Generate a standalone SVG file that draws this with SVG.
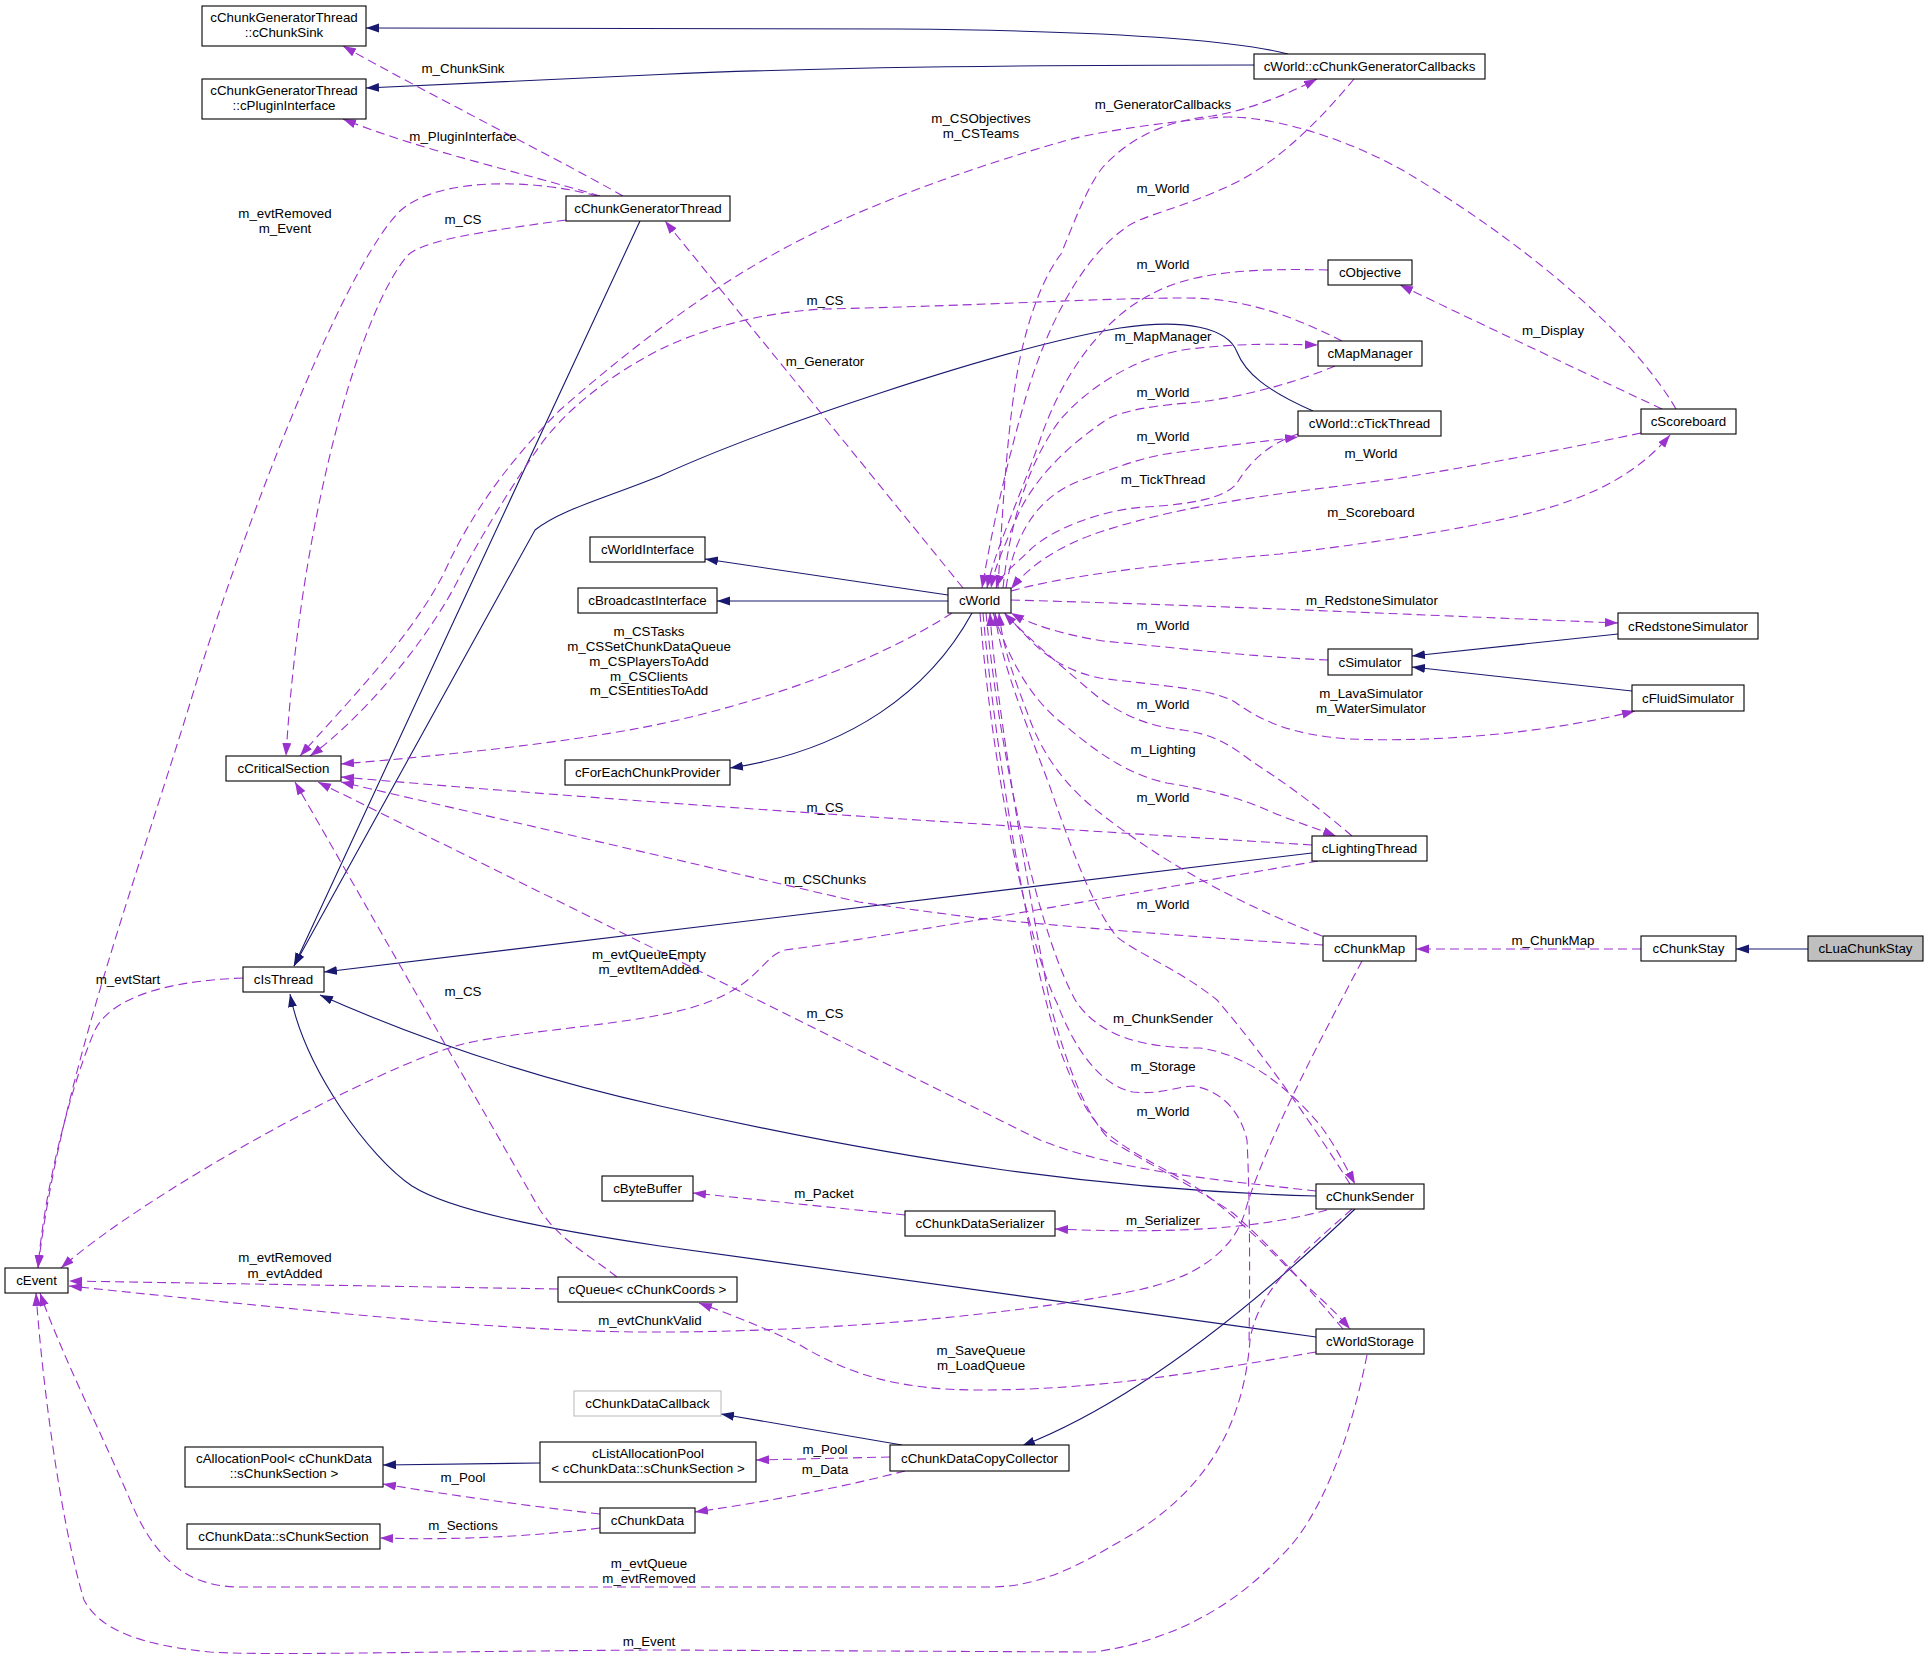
<svg xmlns="http://www.w3.org/2000/svg" width="1928" height="1660" viewBox="0 0 1928 1660">
<style>
text{font-family:"Liberation Sans",Arial,Helvetica,sans-serif;font-size:13.33px;fill:#000}
.n rect{fill:#fff;stroke:#000;stroke-width:1.1}
.n text,.l text{text-anchor:middle}
.u{fill:none;stroke:#9a32cd;stroke-width:1.1;stroke-dasharray:9,5;marker-end:url(#ap)}
.un{fill:none;stroke:#9a32cd;stroke-width:1.1;stroke-dasharray:9,5}
.i{fill:none;stroke:#191970;stroke-width:1.1;marker-end:url(#an)}
</style>
<defs>
<marker id="ap" markerUnits="userSpaceOnUse" markerWidth="14" markerHeight="10" refX="13" refY="4.5" orient="auto"><path d="M0,0 L13,4.5 L0,9 z" fill="#9a32cd"/></marker>
<marker id="an" markerUnits="userSpaceOnUse" markerWidth="14" markerHeight="10" refX="13" refY="4.5" orient="auto"><path d="M0,0 L13,4.5 L0,9 z" fill="#191970"/></marker>
</defs>
<rect width="1928" height="1660" fill="#fff"/>
<g id="edges">
<!-- inheritance -->
<path class="i" d="M1288,54 C1250,44 1150,31 900,29 L366,28"/>
<path class="i" d="M1254,65 C1000,65 800,68 660,74.5 L366,88"/>
<path class="i" d="M640,221 C560,390 390,760 294,966"/>
<path class="i" d="M1313,411 C1265,390 1245,372 1237,352 C1228,328 1185,318 1120,328 C1000,348 760,430 660,476 C600,500 560,510 535,530 L294,966"/>
<path class="i" d="M1312,853 L324,972"/>
<path class="i" d="M1316,1196 C1100,1190 900,1160 660,1106 C520,1075 410,1035 320,995"/>
<path class="i" d="M1316,1337 L660,1246 C540,1228 450,1210 412,1186 C370,1158 305,1070 290,994"/>
<path class="i" d="M948,595 L705,559"/>
<path class="i" d="M948,601 L717,601"/>
<path class="i" d="M972,613 C930,690 850,750 730,768"/>
<path class="i" d="M1618,634 L1412,656"/>
<path class="i" d="M1632,691 L1412,667"/>
<path class="i" d="M1808,949 L1736,949"/>
<path class="i" d="M1355,1209 C1260,1300 1140,1400 1022,1446"/>
<path class="i" d="M902,1445 L721,1414"/>
<path class="i" d="M540,1463 L383,1465"/>
<!-- usage -->
<path class="u" d="M623,196 C560,160 430,95 343,46"/>
<path class="u" d="M600,196 C520,172 420,150 343,119"/>
<path class="u" d="M566,220 C480,232 425,240 408,255 C360,310 300,520 286,756"/>
<path class="u" d="M597,196 C540,180 440,175 400,211 C350,260 260,480 198,677 C140,870 60,1080 38,1268"/>
<path class="u" d="M243,978 C160,981 110,1000 95,1030 C75,1075 45,1180 38,1268"/>
<path class="u" d="M1318,861 C1150,890 900,935 785,950 C762,956 760,985 700,1005 C640,1025 520,1030 463,1044 C380,1065 150,1190 61,1268"/>
<path class="u" d="M558,1289 L69,1281"/>
<path class="u" d="M1362,961 C1320,1040 1262,1150 1245,1212 C1232,1255 1190,1280 1133,1291 C1000,1318 800,1333 640,1332 C500,1331 300,1310 69,1286"/>
<path class="u" d="M1352,1209 C1300,1255 1258,1290 1250,1340 C1244,1420 1210,1490 1124,1539 C1080,1565 1040,1587 990,1587 L240,1587 C180,1587 150,1550 128,1495 C95,1420 60,1350 40,1293"/>
<path class="u" d="M1367,1355 C1350,1440 1320,1520 1280,1557 C1240,1600 1180,1640 1094,1652 L660,1650 C450,1651 260,1656 210,1652 C140,1645 100,1630 84,1600 C60,1520 42,1380 36,1293"/>
<path class="u" d="M1316,1352 C1200,1372 1100,1390 980,1390 C900,1390 850,1375 800,1345 C770,1330 740,1318 699,1303"/>
<path class="u" d="M905,1215 L693,1193"/>
<path class="u" d="M1327,1210 C1270,1225 1200,1235 1055,1229"/>
<path class="u" d="M890,1457 L756,1460"/>
<path class="u" d="M905,1471 C850,1485 780,1500 695,1512"/>
<path class="u" d="M600,1514 C520,1505 450,1495 383,1484"/>
<path class="u" d="M600,1528 C520,1538 440,1540 380,1538"/>
<path class="u" d="M1641,949 L1416,949"/>
<path class="u" d="M617,1277 C585,1252 560,1240 540,1210 L295,782"/>
<path class="u" d="M1316,1191 C1220,1180 1120,1172 1040,1140 L318,782"/>
<path class="u" d="M1323,945 C1200,938 1050,925 977,918 C930,912 900,908 859,902 L341,782"/>
<path class="u" d="M1312,845 C1000,825 700,808 341,777"/>
<path class="u" d="M952,613 C880,660 760,705 640,728 C560,743 450,755 341,764"/>
<path class="u" d="M1676,409 C1630,330 1520,240 1404,171 C1340,135 1260,112 1212,118 C1150,124 1090,133 1061,142 C980,165 880,200 808,236 C720,280 640,340 560,410 C500,470 470,520 450,560 C420,630 340,710 300,756"/>
<path class="u" d="M1342,341 C1300,320 1250,298 1187,298 C1100,298 1000,305 825,309 C760,312 700,330 661,349 C610,375 565,410 539,447 C505,495 480,540 463,570 C430,640 360,720 310,756"/>
<path class="u" d="M998,588 C1003,500 1008,420 1019,363 C1030,310 1045,275 1061,254 C1075,220 1088,185 1103,167 C1135,132 1175,120 1212,116 C1250,110 1290,93 1317,79"/>
<path class="u" d="M1354,79 C1320,120 1280,160 1237,182 C1180,210 1140,215 1124,229 C1080,260 1045,330 1025,400 C1005,470 992,530 982,588"/>
<path class="u" d="M1328,270 C1250,268 1190,272 1150,295 C1100,320 1060,380 1040,440 C1015,510 995,550 987,588"/>
<path class="u" d="M1003,588 C1010,520 1030,460 1060,420 C1090,385 1140,355 1190,349 C1240,343 1280,344 1318,345"/>
<path class="u" d="M1335,366 C1290,385 1230,400 1187,403 C1140,407 1115,413 1103,422 C1070,445 1040,472 1020,510 C1005,545 995,565 991,588"/>
<path class="u" d="M1006,588 C1015,530 1040,495 1082,480 C1115,468 1140,458 1166,454 C1220,446 1260,442 1298,437"/>
<path class="u" d="M1298,434 C1265,445 1248,465 1237,483 C1225,500 1180,505 1145,507 C1100,510 1050,530 1030,550 C1015,565 1000,575 996,588"/>
<path class="u" d="M1641,433 C1560,450 1480,465 1400,478 C1300,492 1200,500 1103,531 C1060,545 1030,565 1011,589"/>
<path class="u" d="M1011,591 C1060,577 1150,565 1280,554 C1400,540 1520,520 1569,501 C1610,487 1645,465 1670,435"/>
<path class="u" d="M1662,409 C1600,380 1500,333 1400,285"/>
<path class="u" d="M1011,600 C1200,605 1400,614 1618,623"/>
<path class="u" d="M1328,660 C1250,657 1150,645 1103,641 C1060,634 1030,624 1011,613"/>
<path class="u" d="M1005,613 C1030,640 1050,668 1100,678 C1160,686 1210,688 1235,702 C1260,720 1290,735 1350,739 C1450,743 1560,730 1635,711"/>
<path class="u" d="M993,613 C1010,660 1030,700 1067,727 C1100,755 1130,775 1167,783 C1210,790 1240,798 1267,810 C1290,820 1315,828 1336,836"/>
<path class="u" d="M1352,836 C1310,800 1280,780 1250,760 C1230,745 1215,735 1183,730 C1150,727 1120,715 1093,693 C1060,665 1030,640 1004,613"/>
<path class="u" d="M1322,936 C1230,900 1160,860 1100,813 C1070,790 1045,760 1030,720 C1015,680 1003,650 999,613"/>
<path class="u" d="M1350,1184 C1310,1120 1260,1050 1217,1000 C1180,970 1140,955 1117,937 C1095,910 1075,860 1050,787 C1025,720 1000,660 995,613"/>
<path class="u" d="M1343,1329 C1310,1290 1280,1255 1233,1213 C1200,1190 1150,1165 1110,1140 C1085,1115 1065,1060 1050,1003 C1030,900 995,700 990,613"/>
<path class="u" d="M983,613 C995,750 1030,960 1060,1050 C1075,1090 1085,1110 1100,1127 C1130,1155 1170,1170 1200,1190 C1240,1220 1270,1250 1287,1267 C1310,1290 1330,1305 1350,1329"/>
<path class="un" d="M980,613 C993,780 1030,950 1057,1003 C1075,1050 1100,1085 1133,1092 C1160,1095 1180,1086 1193,1086 C1220,1090 1240,1110 1247,1140 C1250,1200 1250,1280 1249,1345"/>
<path class="u" d="M986,613 C1000,760 1040,940 1077,1003 C1100,1035 1140,1048 1200,1048 C1250,1055 1290,1090 1320,1125 C1335,1145 1345,1165 1355,1184"/>
<path class="u" d="M963,588 L665,221"/>
</g>
<g id="edge-labels" class="l">
<text x="463" y="73">m_ChunkSink</text>
<text x="463" y="141">m_PluginInterface</text>
<text x="285" y="218">m_evtRemoved</text>
<text x="285" y="233">m_Event</text>
<text x="463" y="224">m_CS</text>
<text x="1163" y="109">m_GeneratorCallbacks</text>
<text x="981" y="123">m_CSObjectives</text>
<text x="981" y="138">m_CSTeams</text>
<text x="1163" y="193">m_World</text>
<text x="1163" y="269">m_World</text>
<text x="825" y="305">m_CS</text>
<text x="1163" y="341">m_MapManager</text>
<text x="1553" y="335">m_Display</text>
<text x="825" y="366">m_Generator</text>
<text x="1163" y="397">m_World</text>
<text x="1163" y="441">m_World</text>
<text x="1371" y="458">m_World</text>
<text x="1163" y="484">m_TickThread</text>
<text x="1371" y="517">m_Scoreboard</text>
<text x="1372" y="605">m_RedstoneSimulator</text>
<text x="1163" y="630">m_World</text>
<text x="649" y="636">m_CSTasks</text>
<text x="649" y="651">m_CSSetChunkDataQueue</text>
<text x="649" y="666">m_CSPlayersToAdd</text>
<text x="649" y="681">m_CSClients</text>
<text x="649" y="695">m_CSEntitiesToAdd</text>
<text x="1371" y="698">m_LavaSimulator</text>
<text x="1371" y="713">m_WaterSimulator</text>
<text x="1163" y="709">m_World</text>
<text x="1163" y="754">m_Lighting</text>
<text x="1163" y="802">m_World</text>
<text x="825" y="812">m_CS</text>
<text x="825" y="884">m_CSChunks</text>
<text x="1163" y="909">m_World</text>
<text x="1553" y="945">m_ChunkMap</text>
<text x="649" y="959">m_evtQueueEmpty</text>
<text x="649" y="974">m_evtItemAdded</text>
<text x="128" y="984">m_evtStart</text>
<text x="463" y="996">m_CS</text>
<text x="825" y="1018">m_CS</text>
<text x="1163" y="1023">m_ChunkSender</text>
<text x="1163" y="1071">m_Storage</text>
<text x="1163" y="1116">m_World</text>
<text x="824" y="1198">m_Packet</text>
<text x="1163" y="1225">m_Serializer</text>
<text x="285" y="1262">m_evtRemoved</text>
<text x="285" y="1278">m_evtAdded</text>
<text x="650" y="1325">m_evtChunkValid</text>
<text x="981" y="1355">m_SaveQueue</text>
<text x="981" y="1370">m_LoadQueue</text>
<text x="825" y="1454">m_Pool</text>
<text x="825" y="1474">m_Data</text>
<text x="463" y="1482">m_Pool</text>
<text x="463" y="1530">m_Sections</text>
<text x="649" y="1568">m_evtQueue</text>
<text x="649" y="1583">m_evtRemoved</text>
<text x="649" y="1646">m_Event</text>
</g>
<g id="n-cChunkSink" class="n"><rect x="202" y="6" width="164" height="40"/><text x="284" y="22">cChunkGeneratorThread</text><text x="284" y="37">::cChunkSink</text></g>
<g id="n-cPluginInterface" class="n"><rect x="202" y="79" width="164" height="40"/><text x="284" y="95">cChunkGeneratorThread</text><text x="284" y="110">::cPluginInterface</text></g>
<g id="n-cChunkGeneratorThread" class="n"><rect x="566" y="196" width="164" height="25"/><text x="648" y="213">cChunkGeneratorThread</text></g>
<g id="n-cChunkGeneratorCallbacks" class="n"><rect x="1254" y="54" width="231" height="25"/><text x="1369.5" y="71">cWorld::cChunkGeneratorCallbacks</text></g>
<g id="n-cObjective" class="n"><rect x="1328" y="260" width="84" height="25"/><text x="1370" y="277">cObjective</text></g>
<g id="n-cMapManager" class="n"><rect x="1318" y="341" width="104" height="25"/><text x="1370" y="358">cMapManager</text></g>
<g id="n-cTickThread" class="n"><rect x="1298" y="411" width="143" height="25"/><text x="1369.5" y="428">cWorld::cTickThread</text></g>
<g id="n-cScoreboard" class="n"><rect x="1641" y="409" width="95" height="25"/><text x="1688.5" y="426">cScoreboard</text></g>
<g id="n-cWorldInterface" class="n"><rect x="590" y="537" width="115" height="25"/><text x="647.5" y="554">cWorldInterface</text></g>
<g id="n-cBroadcastInterface" class="n"><rect x="578" y="588" width="139" height="25"/><text x="647.5" y="605">cBroadcastInterface</text></g>
<g id="n-cWorld" class="n"><rect x="948" y="588" width="63" height="25"/><text x="979.5" y="605">cWorld</text></g>
<g id="n-cRedstoneSimulator" class="n"><rect x="1618" y="613" width="140" height="26"/><text x="1688" y="630.5">cRedstoneSimulator</text></g>
<g id="n-cSimulator" class="n"><rect x="1328" y="649" width="84" height="26"/><text x="1370" y="666.5">cSimulator</text></g>
<g id="n-cFluidSimulator" class="n"><rect x="1632" y="685" width="112" height="26"/><text x="1688" y="702.5">cFluidSimulator</text></g>
<g id="n-cCriticalSection" class="n"><rect x="226" y="756" width="115" height="25"/><text x="283.5" y="773">cCriticalSection</text></g>
<g id="n-cForEachChunkProvider" class="n"><rect x="565" y="760" width="165" height="25"/><text x="647.5" y="777">cForEachChunkProvider</text></g>
<g id="n-cLightingThread" class="n"><rect x="1312" y="836" width="115" height="25"/><text x="1369.5" y="853">cLightingThread</text></g>
<g id="n-cChunkMap" class="n"><rect x="1323" y="936" width="93" height="25"/><text x="1369.5" y="953">cChunkMap</text></g>
<g id="n-cChunkStay" class="n"><rect x="1641" y="936" width="95" height="25"/><text x="1688.5" y="953">cChunkStay</text></g>
<g id="n-cLuaChunkStay" class="n"><rect x="1808" y="936" width="115" height="25" style="fill:#bfbfbf"/><text x="1865.5" y="953">cLuaChunkStay</text></g>
<g id="n-cIsThread" class="n"><rect x="243" y="967" width="81" height="25"/><text x="283.5" y="984">cIsThread</text></g>
<g id="n-cByteBuffer" class="n"><rect x="602" y="1176" width="91" height="25"/><text x="647.5" y="1193">cByteBuffer</text></g>
<g id="n-cChunkSender" class="n"><rect x="1316" y="1184" width="108" height="25"/><text x="1370" y="1201">cChunkSender</text></g>
<g id="n-cChunkDataSerializer" class="n"><rect x="905" y="1211" width="150" height="25"/><text x="980" y="1228">cChunkDataSerializer</text></g>
<g id="n-cEvent" class="n"><rect x="5" y="1268" width="63" height="25"/><text x="36.5" y="1285">cEvent</text></g>
<g id="n-cQueue" class="n"><rect x="558" y="1277" width="179" height="25"/><text x="647.5" y="1294">cQueue&lt; cChunkCoords &gt;</text></g>
<g id="n-cWorldStorage" class="n"><rect x="1316" y="1329" width="108" height="25"/><text x="1370" y="1346">cWorldStorage</text></g>
<g id="n-cChunkDataCallback" class="n"><rect x="574" y="1391" width="147" height="25" style="stroke:#bfbfbf"/><text x="647.5" y="1408">cChunkDataCallback</text></g>
<g id="n-cAllocationPool" class="n"><rect x="185" y="1447" width="198" height="40"/><text x="284" y="1463">cAllocationPool&lt; cChunkData</text><text x="284" y="1478">::sChunkSection &gt;</text></g>
<g id="n-cListAllocationPool" class="n"><rect x="540" y="1442" width="216" height="40"/><text x="648" y="1458">cListAllocationPool</text><text x="648" y="1473">&lt; cChunkData::sChunkSection &gt;</text></g>
<g id="n-cChunkDataCopyCollector" class="n"><rect x="890" y="1445" width="179" height="26"/><text x="979.5" y="1462.5">cChunkDataCopyCollector</text></g>
<g id="n-cChunkData" class="n"><rect x="600" y="1508" width="95" height="25"/><text x="647.5" y="1525">cChunkData</text></g>
<g id="n-sChunkSection" class="n"><rect x="187" y="1524" width="193" height="25"/><text x="283.5" y="1541">cChunkData::sChunkSection</text></g>
</svg>
